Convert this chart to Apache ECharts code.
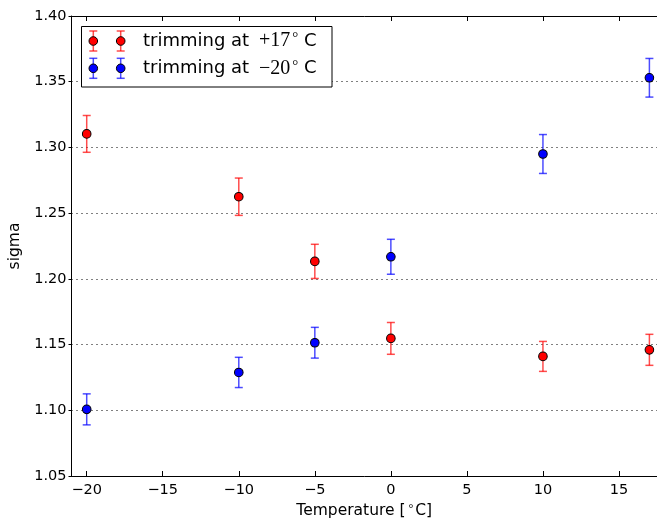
<!DOCTYPE html>
<html>
<head>
<meta charset="utf-8">
<script src="https://cdn.jsdelivr.net/npm/echarts@6/dist/echarts.min.js"></script>
<style>
html,body{margin:0;padding:0;background:#fff;}
#c{width:657px;height:522px;}
</style>
</head>
<body>
<div id="c"></div>
<script>
// ---- data ----
var temps = [-20, -10, -5, 0, 10, 17];
var redSigma = [1.3103, 1.2625, 1.2133, 1.1547, 1.1410, 1.1460];
var redErr = [0.0140, 0.0142, 0.0130, 0.0121, 0.0114, 0.0118];
var blueSigma = [1.1007, 1.1288, 1.1514, 1.2168, 1.2950, 1.3530];
var blueErr = [0.0118, 0.0115, 0.0117, 0.0133, 0.0148, 0.0147];
var xTicks = [-20, -15, -10, -5, 0, 5, 10, 15];
var legendMath = ['+17', '\u221220'];

var FONT = 'DejaVu Sans';
var SERIF = 'Liberation Serif';

function pts(xs, ys) { return xs.map(function (x, i) { return [x, ys[i]]; }); }
function errs(xs, ys, es) { return xs.map(function (x, i) { return [x, ys[i] - es[i], ys[i] + es[i]]; }); }

function errRender(color) {
  return function (params, api) {
    var x = api.value(0), lo = api.value(1), hi = api.value(2);
    var p1 = api.coord([x, hi]), p2 = api.coord([x, lo]);
    var hw = 4;
    var st = { stroke: color, lineWidth: 1.5 };
    return {
      type: 'group',
      children: [
        { type: 'line', shape: { x1: p1[0], y1: p1[1], x2: p2[0], y2: p2[1] }, style: st },
        { type: 'line', shape: { x1: p1[0] - hw, y1: p1[1], x2: p1[0] + hw, y2: p1[1] }, style: st },
        { type: 'line', shape: { x1: p2[0] - hw, y1: p2[1], x2: p2[0] + hw, y2: p2[1] }, style: st }
      ]
    };
  };
}

var RED = '#ff0000', BLUE = '#0000ff';
var REDBAR = 'rgba(255,0,0,0.7)', BLUEBAR = 'rgba(0,0,255,0.7)';

function fmtMinus(v) { return String(v).replace('-', '\u2212'); }

// legend graphic
function legendRow(y, color, barColor, mathText) {
  var items = [];
  [93.3, 120.7].forEach(function (cx) {
    var st = { stroke: barColor, lineWidth: 1.5 };
    items.push({ type: 'line', shape: { x1: cx, y1: y - 10, x2: cx, y2: y + 10 }, style: st, z: 101 });
    items.push({ type: 'line', shape: { x1: cx - 4, y1: y - 10, x2: cx + 4, y2: y - 10 }, style: st, z: 101 });
    items.push({ type: 'line', shape: { x1: cx - 4, y1: y + 10, x2: cx + 4, y2: y + 10 }, style: st, z: 101 });
    items.push({ type: 'circle', shape: { cx: cx, cy: y, r: 4.3 }, style: { fill: color, stroke: '#000', lineWidth: 1 }, z: 102 });
  });
  items.push({
    type: 'text', x: 143, y: y, z: 102,
    style: {
      text: '{a|trimming at }{m|' + mathText + '}{s|\u00b0}{c| C}',
      verticalAlign: 'middle',
      rich: {
        a: { fontFamily: FONT, fontSize: 18, fill: '#000' },
        m: { fontFamily: SERIF, fontSize: 20, fill: '#000', padding: [0, 0, 0, 4] },
        s: { fontFamily: SERIF, fontSize: 15, fill: '#000', verticalAlign: 'top', padding: [0, 0, 0, 2] },
        c: { fontFamily: FONT, fontSize: 18, fill: '#000' }
      }
    }
  });
  return items;
}

var graphics = [{
  type: 'rect', shape: { x: 81.5, y: 26.5, width: 250.5, height: 60.5 },
  style: { fill: '#fff', stroke: '#000', lineWidth: 1 }, z: 100
}].concat(legendRow(41, RED, REDBAR, legendMath[0]), legendRow(68.3, BLUE, BLUEBAR, legendMath[1]));

var chart = echarts.init(document.getElementById('c'), null, { renderer: 'canvas' });
chart.setOption({
  animation: false,
  backgroundColor: '#fff',
  grid: { left: 71.5, right: 0, top: 16, bottom: 46, containLabel: false, outerBoundsMode: 'none' },
  xAxis: [{
    type: 'value', min: -21, max: 17.5, position: 'bottom',
    axisLine: { show: true, onZero: false, lineStyle: { color: '#000', width: 1 } },
    axisTick: { show: true, inside: true, length: 5, customValues: xTicks, lineStyle: { color: '#000' } },
    axisLabel: { customValues: xTicks, formatter: fmtMinus, color: '#000', fontFamily: FONT, fontSize: 14.5, margin: 7 },
    splitLine: { show: false },
    name: 'Temperature [{s|\u00b0}C]', nameLocation: 'middle', nameGap: 26,
    nameTextStyle: { color: '#000', fontFamily: FONT, fontSize: 15.5,
      rich: { s: { fontFamily: SERIF, fontSize: 12, verticalAlign: 'top', padding: [0, 2, 0, 3] } } }
  }, {
    type: 'value', min: -21, max: 17.5, position: 'top',
    axisLine: { show: true, onZero: false, lineStyle: { color: '#000', width: 1 } },
    axisTick: { show: true, inside: true, length: 5, customValues: xTicks, lineStyle: { color: '#000' } },
    axisLabel: { show: false },
    splitLine: { show: false }
  }],
  yAxis: [{
    type: 'value', min: 1.05, max: 1.40, interval: 0.05,
    axisLine: { show: true, onZero: false, lineStyle: { color: '#000', width: 1 } },
    axisTick: { show: true, inside: false, length: 3, lineStyle: { color: '#000' } },
    axisLabel: { formatter: function (v) { return v.toFixed(2); }, color: '#000', fontFamily: FONT, fontSize: 14.5, margin: 5 },
    splitLine: { show: true, lineStyle: { color: '#000', width: 1, type: [1, 4] } },
    name: 'sigma', nameLocation: 'middle', nameGap: 45,
    nameTextStyle: { color: '#000', fontFamily: FONT, fontSize: 15.5 }
  }],
  series: [{
    type: 'custom', name: 'redErr', renderItem: errRender(REDBAR),
    data: errs(temps, redSigma, redErr), encode: { x: 0, y: [1, 2] }, z: 2, clip: false
  }, {
    type: 'scatter', name: 'red', data: pts(temps, redSigma), symbol: 'circle', symbolSize: 8.6,
    itemStyle: { color: RED, borderColor: '#000', borderWidth: 1, opacity: 1 }, z: 3
  }, {
    type: 'custom', name: 'blueErr', renderItem: errRender(BLUEBAR),
    data: errs(temps, blueSigma, blueErr), encode: { x: 0, y: [1, 2] }, z: 4, clip: false
  }, {
    type: 'scatter', name: 'blue', data: pts(temps, blueSigma), symbol: 'circle', symbolSize: 8.6,
    itemStyle: { color: BLUE, borderColor: '#000', borderWidth: 1, opacity: 1 }, z: 5
  }],
  graphic: graphics
});
</script>
</body>
</html>
